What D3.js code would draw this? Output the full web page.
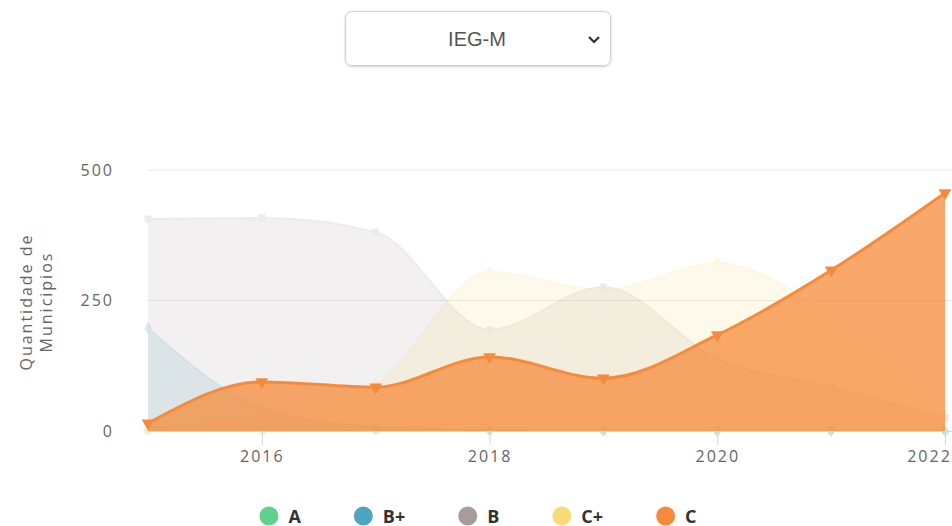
<!DOCTYPE html>
<html>
<head>
<meta charset="utf-8">
<script src="https://cdn.jsdelivr.net/npm/d3@7"></script>
<style>
  body { margin: 0; background: #fff; }
  svg { display: block; }
</style>
</head>
<body>
<div id="area-vis"></div>
<script>
// data
var years = [2015, 2016, 2017, 2018, 2019, 2020, 2021, 2022];
var xTicks = [2016, 2018, 2020, 2022];
var yTicks = [0, 250, 500];
var serieNames = ['A', 'B+', 'B', 'C+', 'C'];
var valuesA = [0, 0, 0, 0, 0, 0, 0, 0];
var valuesBplus = [197, 45, 8, 2, 0, 0, 0, 0];
var valuesB = [406, 408, 381, 194, 276, 138, 84, 25];
var valuesCplus = [5, 30, 90, 305, 270, 322, 220, 30];
var valuesC = [15, 94, 84, 142, 101, 184, 308, 456];
var selected = 'IEG-M';

AreaVis = function(_parentElement) {
  this.parentElement = _parentElement;
  this.wrangleData();
  this.initVis();
};

AreaVis.prototype.wrangleData = function() {
  var vis = this;
  var all = [valuesA, valuesBplus, valuesB, valuesCplus, valuesC];
  vis.series = serieNames.map((name, i) => {
    return {
      name: name,
      values: years.map((y, j) => ({year: y, value: all[i][j]}))
    };
  });
}

AreaVis.prototype.initVis = function() {
  var vis = this;

  vis.width = 952;
  vis.height = 526;
  vis.plot = {left: 148, right: 945, top: 170, bottom: 431};

  vis.svg = d3.select('#' + vis.parentElement).append('svg')
    .attr('width', vis.width)
    .attr('height', vis.height);

  vis.color = d3.scaleOrdinal()
    .domain(serieNames)
    .range(['#5ed18c', '#4ca6c0', '#a79c9a', '#f7dc78', '#f58b3a']);

  vis.symbols = d3.scaleOrdinal()
    .domain(serieNames)
    .range([d3.symbolCircle, d3.symbolDiamond, d3.symbolSquare, d3.symbolTriangle, d3.symbolTriangle]);

  vis.xScale = d3.scaleLinear()
    .domain(d3.extent(years))
    .range([vis.plot.left, vis.plot.right]);

  vis.yScale = d3.scaleLinear()
    .domain([0, 500])
    .range([vis.plot.bottom, vis.plot.top]);

  vis.drawSelect();

  // grid lines
  vis.svg.append('g')
    .attr('class', 'grid')
    .selectAll('line')
    .data(yTicks.filter((d) => d > 0))
    .enter()
    .append('line')
    .attr('x1', vis.plot.left)
    .attr('x2', vis.width)
    .attr('y1', (d) => vis.yScale(d))
    .attr('y2', (d) => vis.yScale(d))
    .attr('stroke', '#e6e6e6')
    .attr('stroke-width', 1);

  // y axis labels
  var yAxis = d3.axisLeft(vis.yScale)
    .tickValues(yTicks)
    .tickSize(0)
    .tickPadding(34);

  vis.svg.append('g')
    .attr('class', 'y-axis axis')
    .attr('transform', 'translate(' + vis.plot.left + ',0)')
    .call(yAxis)
    .call((g) => g.select('.domain').remove())
    .selectAll('text')
    .attr('fill', '#666')
    .style('font-family', 'Open Sans')
    .style('font-size', '16px')
    .style('letter-spacing', '2px');

  vis.svg.append('text')
    .attr('transform', 'translate(32,302) rotate(-90)')
    .attr('text-anchor', 'middle')
    .attr('fill', '#666')
    .style('font-family', 'Open Sans')
    .style('font-size', '16px')
    .style('letter-spacing', '2px')
    .selectAll('tspan')
    .data(['Quantidade de', 'Municipios'])
    .enter()
    .append('tspan')
    .attr('x', 0)
    .attr('dy', (d, i) => i === 0 ? 0 : 20)
    .text((d) => d);

  vis.drawSeries();

  // x axis
  var xAxis = d3.axisBottom(vis.xScale)
    .tickValues(xTicks)
    .tickFormat((d) => '' + d)
    .tickSize(14)
    .tickPadding(6);

  var gx = vis.svg.append('g')
    .attr('class', 'x-axis axis')
    .attr('transform', 'translate(0,' + vis.plot.bottom + ')')
    .call(xAxis);
  gx.select('.domain').remove();
  gx.selectAll('line').attr('stroke', '#ccd6eb');
  gx.selectAll('text')
    .attr('fill', '#666')
    .style('font-family', 'Open Sans')
    .style('font-size', '16px')
    .style('letter-spacing', '2px')
    // last label is pushed left so it stays in the chart
    .attr('dx', (d) => d === xTicks[xTicks.length - 1] ? -16 : 0);

  gx.insert('line', ':first-child')
    .attr('x1', vis.plot.left)
    .attr('x2', vis.width)
    .attr('y1', 0.5)
    .attr('y2', 0.5)
    .attr('stroke', '#ccd6eb');

  vis.drawLegend();
}

AreaVis.prototype.drawSeries = function() {
  var vis = this;

  var area = d3.area()
    .x((d) => vis.xScale(d.year))
    .y0(vis.yScale(0))
    .y1((d) => vis.yScale(d.value))
    .curve(d3.curveMonotoneX);

  var line = d3.line()
    .x((d) => vis.xScale(d.year))
    .y((d) => vis.yScale(d.value))
    .curve(d3.curveMonotoneX);

  var groups = vis.svg.selectAll('.serie')
    .data(vis.series)
    .enter()
    .append('g')
    .attr('class', 'serie')
    // 'C' is hovered, the others are faded
    .style('opacity', (d) => d.name === 'C' ? 1 : 0.2);

  groups.append('path')
    .attr('d', (d) => area(d.values))
    .attr('fill', (d) => vis.color(d.name))
    .attr('fill-opacity', 0.75);

  groups.append('path')
    .attr('d', (d) => line(d.values))
    .attr('fill', 'none')
    .attr('stroke', (d) => vis.color(d.name))
    .attr('stroke-width', (d) => d.name === 'C' ? 3 : 2);

  groups.selectAll('.marker')
    .data((d) => d.values.map((v) => ({name: d.name, year: v.year, value: v.value})))
    .enter()
    .append('path')
    .attr('class', 'marker')
    .attr('d', (d) => d3.symbol().type(vis.symbols(d.name)).size(d.name === 'C' ? 70 : 50)())
    .attr('transform', (d) => 'translate(' + vis.xScale(d.year) + ',' + vis.yScale(d.value) + ')' + (d.name === 'C' ? ' rotate(180)' : ''))
    .attr('fill', (d) => vis.color(d.name));
}

AreaVis.prototype.drawSelect = function() {
  var vis = this;
  var g = vis.svg.append('g').attr('class', 'select');

  var defs = vis.svg.append('defs');
  var f = defs.append('filter').attr('id', 'shadow')
    .attr('x', '-10%').attr('y', '-20%').attr('width', '120%').attr('height', '150%');
  f.append('feDropShadow')
    .attr('dx', 0).attr('dy', 1).attr('stdDeviation', 1.2)
    .attr('flood-color', '#000').attr('flood-opacity', 0.18);

  g.append('rect')
    .attr('x', 345.5)
    .attr('y', 11.5)
    .attr('width', 265)
    .attr('height', 54)
    .attr('rx', 6)
    .attr('fill', '#fff')
    .attr('stroke', '#d0d0d0')
    .attr('filter', 'url(#shadow)');

  g.append('text')
    .attr('x', 477)
    .attr('y', 46)
    .attr('text-anchor', 'middle')
    .attr('fill', '#555')
    .style('font-family', 'Liberation Sans')
    .style('font-size', '20px')
    .text(selected);

  g.append('path')
    .attr('d', 'M589,37 L594,42 L599,37')
    .attr('fill', 'none')
    .attr('stroke', '#333')
    .attr('stroke-width', 2.2);
}

AreaVis.prototype.drawLegend = function() {
  var vis = this;
  var legend = vis.svg.append('g').attr('class', 'legend');

  var items = legend.selectAll('.legend-item')
    .data(serieNames)
    .enter()
    .append('g')
    .attr('class', 'legend-item');

  items.append('circle')
    .attr('r', 9.5)
    .attr('cx', 9.5)
    .attr('cy', 0)
    .attr('fill', (d) => vis.color(d));

  items.append('text')
    .attr('x', 29)
    .attr('y', 6.5)
    .attr('fill', '#333')
    .style('font-family', 'Open Sans')
    .style('font-weight', 'bold')
    .style('font-size', '18px')
    .text((d) => d);

  // lay the items out in a row, centred
  var gap = 53;
  var x = 0;
  var pos = [];
  items.each(function() {
    var w = 29 + this.querySelector('text').getComputedTextLength();
    pos.push(x);
    x += w + gap;
  });
  var total = x - gap;
  var start = 478 - total / 2;
  items.attr('transform', (d, i) => 'translate(' + (start + pos[i]) + ',516)');
}

var areaVis = new AreaVis('area-vis');
</script>
</body>
</html>
